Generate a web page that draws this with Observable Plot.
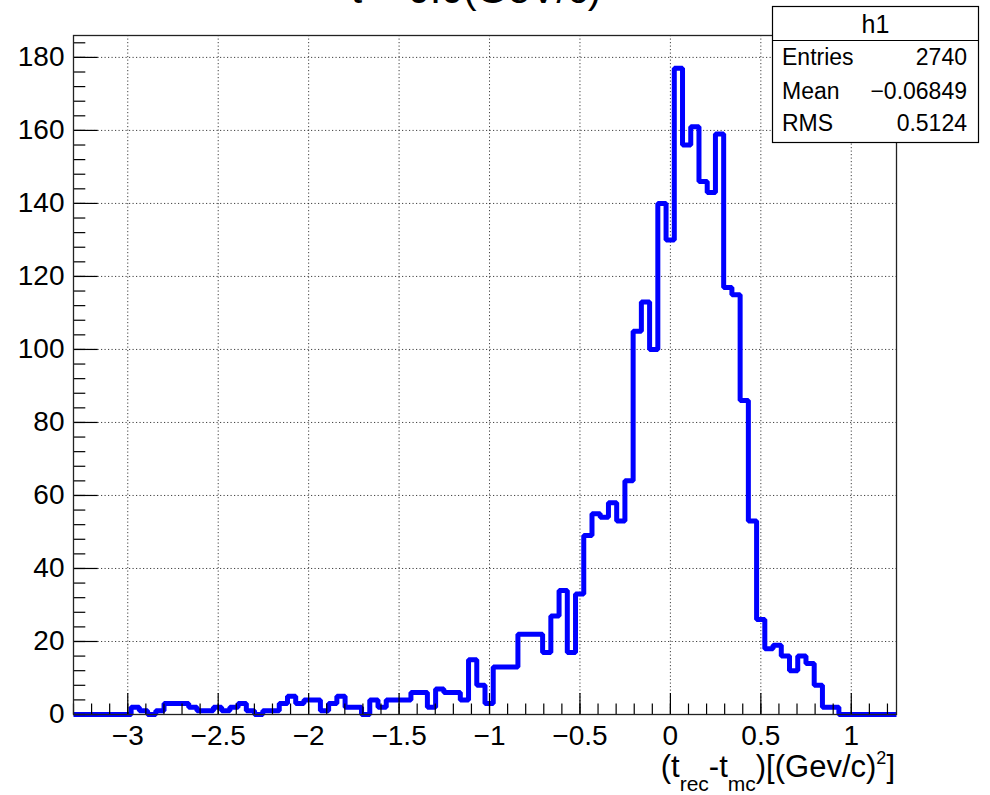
<!DOCTYPE html>
<html>
<head>
<meta charset="utf-8">
<script src="https://cdn.jsdelivr.net/npm/d3@7"></script>
<script src="https://cdn.jsdelivr.net/npm/@observablehq/plot@0.6"></script>
<style>
  html, body { margin: 0; padding: 0; background: #fff; overflow: hidden; }
  #chart { position: relative; width: 990px; height: 795px; }
</style>
</head>
<body>
<div id="chart"></div>
<script>
// ---- data ----
const histTitle = "t = 0.0(GeV/c)";
const histName = "h1";
const xMin = -3.3;
const xMax = 1.25;
const yMax = 186;
const counts = [
  0, 0, 0, 0, 0, 0, 0,
  2, 1, 0, 1, 3, 3, 3, 2, 1, 1, 2, 1, 2, 3, 1, 0, 1, 1,
  3, 5, 3, 4, 4, 1, 3, 5, 2, 2, 0, 4, 2, 4, 4, 4, 6, 6, 2, 7, 6, 6, 4, 15, 8, 3,
  13, 13, 13, 22, 22, 22, 17, 27, 34, 17, 33, 49, 55, 54, 58, 53, 64,
  105, 113, 100, 140, 130, 177, 156, 161, 146, 143, 159, 117, 115,
  86, 53, 26, 18, 19, 16, 12, 16, 14, 8, 2, 2,
  0, 0, 0, 0, 0, 0, 0
];
const xTicks = [-3, -2.5, -2, -1.5, -1, -0.5, 0, 0.5, 1];
const xTickLabels = ["\u22123", "\u22122.5", "\u22122", "\u22121.5", "\u22121", "\u22120.5", "0", "0.5", "1"];
const xMinorTicks = d3.range(-33, 13).map(k => k / 10);
const yTicks = [0, 20, 40, 60, 80, 100, 120, 140, 160, 180];
const yTickLabels = ["0", "20", "40", "60", "80", "100", "120", "140", "160", "180"];
const yMinorTicks = d3.range(0, 47).map(k => k * 4);
const statsLabels = ["Entries", "Mean", "RMS"];
const statsValues = ["2740", "\u22120.06849", "0.5124"];
const axisTitleParts = [
  {t: "(t", k: "n"}, {t: "rec", k: "sub"}, {t: "-t", k: "n"}, {t: "mc", k: "sub"},
  {t: ")[(Gev/c)", k: "n"}, {t: "2", k: "sup"}, {t: "]", k: "n"}
];

// ---- layout ----
const W = 990, H = 795;
const mL = 73, mR = 94, mT = 35, mB = 81;
const fw = W - mL - mR, fh = H - mT - mB;
const font = "'Liberation Sans', Arial, Helvetica, sans-serif";

const binW = (xMax - xMin) / counts.length;
const steps = counts.flatMap((c, i) => [
  {x: xMin + i * binW, y: c},
  {x: xMin + (i + 1) * binW, y: c}
]);

const grid = {stroke: "#000", strokeOpacity: 0.75, strokeWidth: 1, strokeDasharray: "1.2,2.3"};

const svg = Plot.plot({
  width: W, height: H,
  marginLeft: mL, marginRight: mR, marginTop: mT, marginBottom: mB,
  x: {domain: [xMin, xMax]},
  y: {domain: [0, yMax]},
  style: {fontFamily: font, fontSize: "28px", color: "#000", background: "white", overflow: "visible"},
  marks: [
    Plot.ruleX(xTicks, grid),
    Plot.ruleY(yTicks.filter(d => d > 0), grid),
    Plot.line(steps, {x: "x", y: "y", stroke: "#0000ff", strokeWidth: 5,
      strokeLinejoin: "miter", strokeLinecap: "butt", curve: "linear"}),
    Plot.tickX(xMinorTicks, {insetTop: fh - 10.5, stroke: "#000", strokeWidth: 1.2}),
    Plot.tickX(xTicks, {insetTop: fh - 21, stroke: "#000", strokeWidth: 1.2}),
    Plot.tickY(yMinorTicks, {insetRight: fw - 12.3, stroke: "#000", strokeWidth: 1.2}),
    Plot.tickY(yTicks, {insetRight: fw - 24.7, stroke: "#000", strokeWidth: 1.2}),
    Plot.axisX({ticks: xTicks, tickSize: 0, tickPadding: 11, label: null, fontSize: 28,
      tickFormat: d => xTickLabels[xTicks.indexOf(d)]}),
    Plot.axisY({ticks: yTicks, tickSize: 0, tickPadding: 9, label: null, fontSize: 28,
      tickFormat: d => yTickLabels[yTicks.indexOf(d)]}),
    Plot.frame({stroke: "#222", strokeWidth: 1.3})
  ]
});

const root = d3.select(svg);

// title (mostly above the visible area, as in the reference)
root.append("text")
  .attr("x", 476).attr("y", 3)
  .attr("text-anchor", "middle")
  .attr("font-family", font).attr("font-size", 40)
  .attr("fill", "#000")
  .text(histTitle);

// x axis title with sub/superscripts
const at = root.append("text")
  .attr("x", 895).attr("y", 777)
  .attr("text-anchor", "end")
  .attr("font-family", font).attr("font-size", 31)
  .attr("fill", "#000");
let cur = 0;
for (const p of axisTitleParts) {
  const target = p.k === "sub" ? 14 : p.k === "sup" ? -13 : 0;
  const size = p.k === "sub" ? 21 : p.k === "sup" ? 18 : 31;
  at.append("tspan").attr("dy", target - cur).attr("font-size", size).text(p.t);
  cur = target;
}

// stats box
const bx = 772.5, by = 6.5, bw = 206, bh = 136;
const g = root.append("g").attr("font-family", font).attr("fill", "#000");
g.append("rect").attr("x", bx).attr("y", by).attr("width", bw).attr("height", bh)
  .attr("fill", "#fff").attr("stroke", "#000").attr("stroke-width", 1.2);
g.append("line").attr("x1", bx).attr("x2", bx + bw).attr("y1", 40.5).attr("y2", 40.5)
  .attr("stroke", "#000").attr("stroke-width", 1.2);
g.append("text").attr("x", bx + bw / 2).attr("y", 33).attr("text-anchor", "middle")
  .attr("font-size", 25).text(histName);
const rowY = [65, 99, 131];
statsLabels.forEach((lab, i) => {
  g.append("text").attr("x", 782).attr("y", rowY[i]).attr("text-anchor", "start")
    .attr("font-size", 23).text(lab);
  g.append("text").attr("x", 967).attr("y", rowY[i]).attr("text-anchor", "end")
    .attr("font-size", 23).text(statsValues[i]);
});

document.getElementById("chart").appendChild(svg);
</script>
</body>
</html>
